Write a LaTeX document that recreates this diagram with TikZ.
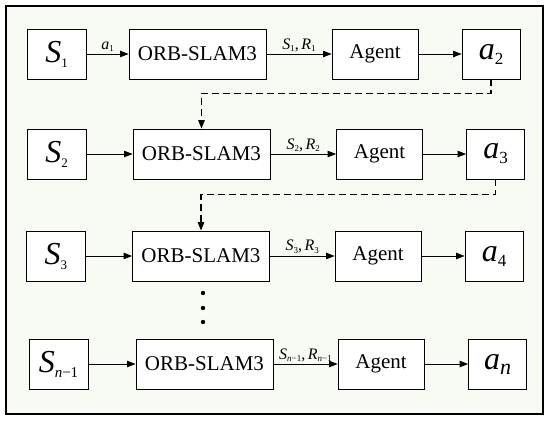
\documentclass[tikz,border=0pt]{standalone}
\usepackage{fontspec}
\setmainfont{Liberation Serif}
\usetikzlibrary{arrows.meta}

\definecolor{panel}{RGB}{248,250,244}

% Symbols inside the boxes and small arrow labels
\newcommand{\bigsym}[3]{{\fontsize{32}{32}\selectfont\itshape #1}\raisebox{-5pt}{\fontsize{#3}{#3}\selectfont #2}}
\newcommand{\lbl}[2]{\textit{#1}\raisebox{-2.5pt}{\fontsize{9}{9}\selectfont #2}}

\tikzset{
  box/.style={draw, fill=white, line width=0.9pt, minimum height=50pt, inner sep=0pt},
  textbox/.style={box, font=\fontsize{21}{21}\selectfont},
  flow/.style={-{Triangle[length=8.5pt,width=6.5pt]}, line width=0.9pt},
  feed/.style={flow, line width=1.1pt, dash pattern=on 7pt off 4pt},
  tag/.style={font=\fontsize{16}{16}\selectfont, inner sep=2pt, above},
}

\begin{document}
\begin{tikzpicture}[x=1pt, y=-1pt]

\useasboundingbox (0,0) rectangle (550,423);

% Frame
\draw[line width=2pt, fill=panel] (6,6) rectangle (543,414);

% Row 1
\node[box, minimum width=59pt] (s1) at (56.5,54) {\bigsym{S}{1}{13}};
\node[textbox, minimum width=137pt] (orb1) at (197.5,54) {ORB-SLAM3};
\node[textbox, minimum width=86pt] (ag1) at (375,54) {Agent};
\node[box, minimum width=58pt] (a2) at (491,54) {\bigsym{a}{2}{17}};

% Row 2
\node[box, minimum width=59pt] (s2) at (56.5,154) {\bigsym{S}{2}{13}};
\node[textbox, minimum width=137pt] (orb2) at (201.5,154) {ORB-SLAM3};
\node[textbox, minimum width=86pt] (ag2) at (379.5,154) {Agent};
\node[box, minimum width=58pt] (a3) at (495.5,154) {\bigsym{a}{3}{17}};

% Row 3
\node[box, minimum width=59pt] (s3) at (56,256) {\bigsym{S}{3}{13}};
\node[textbox, minimum width=137pt] (orb3) at (201,256) {ORB-SLAM3};
\node[textbox, minimum width=86pt] (ag3) at (378,256) {Agent};
\node[box, minimum width=58pt] (a4) at (494,256) {\bigsym{a}{4}{17}};

% Row n-1
\node[box, minimum width=59pt] (sn) at (58.5,364) {\bigsym{S}{\textit{n}−1}{15}};
\node[textbox, minimum width=137pt] (orbn) at (204.5,364) {ORB-SLAM3};
\node[textbox, minimum width=86pt] (agn) at (381,364) {Agent};
\node[box, minimum width=58pt] (an) at (497.5,364) {\bigsym{a}{\textit{n}}{22}};

% Arrows along the rows
\draw[flow] (s1) -- node[tag] {\lbl{a}{1}} (orb1);
\draw[flow] (orb1) -- node[tag] {\lbl{S}{1},\,\lbl{R}{1}} (ag1);
\draw[flow] (ag1) -- (a2);

\draw[flow] (s2) -- (orb2);
\draw[flow] (orb2) -- node[tag] {\lbl{S}{2},\,\lbl{R}{2}} (ag2);
\draw[flow] (ag2) -- (a3);

\draw[flow] (s3) -- (orb3);
\draw[flow] (orb3) -- node[tag] {\lbl{S}{3},\,\lbl{R}{3}} (ag3);
\draw[flow] (ag3) -- (a4);

\draw[flow] (sn) -- (orbn);
\draw[flow] (orbn) -- node[tag] {\lbl{S}{\textit{n}−1},\,\lbl{R}{\textit{n}−1}} (agn);
\draw[flow] (agn) -- (an);

% Feedback of the actions
\draw[feed] (a2.south) -- ++(0,14) -| (orb2.north);
\draw[feed] (a3.south) -- ++(0,15) -| (orb3.north);

% Dots
\fill (203,293) circle (2.2pt);
\fill (203,308) circle (2.2pt);
\fill (203,322) circle (2.2pt);

\end{tikzpicture}
\end{document}
